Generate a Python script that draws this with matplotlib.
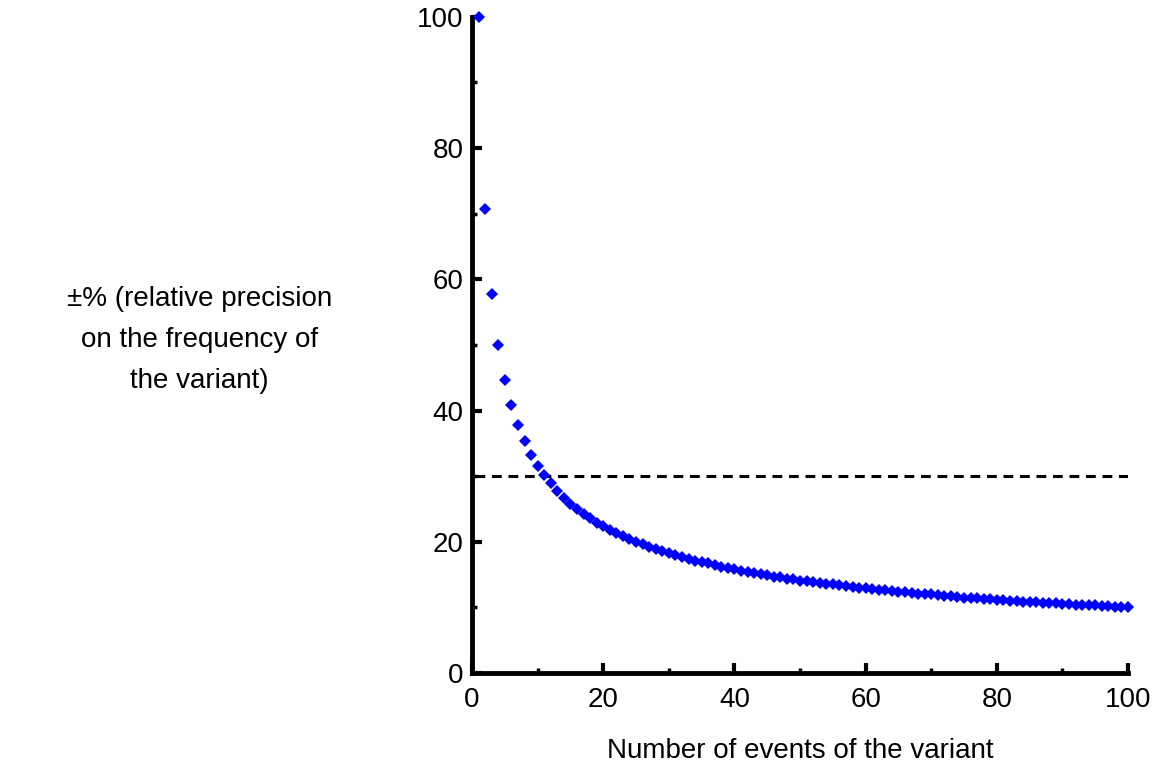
import matplotlib.pyplot as plt
from matplotlib.ticker import MultipleLocator

plt.rcParams['font.family'] = ['Liberation Sans', 'DejaVu Sans']

# number of events of the variant
events = list(range(1, 101))
# relative precision (+/- %)
precision = [
    100.0, 70.7, 57.7, 50.0, 44.7, 40.8, 37.8, 35.4, 33.3, 31.6,
    30.2, 28.9, 27.7, 26.7, 25.8, 25.0, 24.3, 23.6, 22.9, 22.4,
    21.8, 21.3, 20.9, 20.4, 20.0, 19.6, 19.2, 18.9, 18.6, 18.3,
    18.0, 17.7, 17.4, 17.1, 16.9, 16.7, 16.4, 16.2, 16.0, 15.8,
    15.6, 15.4, 15.2, 15.1, 14.9, 14.7, 14.6, 14.4, 14.3, 14.1,
    14.0, 13.9, 13.7, 13.6, 13.5, 13.4, 13.2, 13.1, 13.0, 12.9,
    12.8, 12.7, 12.6, 12.5, 12.4, 12.3, 12.2, 12.1, 12.0, 12.0,
    11.9, 11.8, 11.7, 11.6, 11.5, 11.5, 11.4, 11.3, 11.3, 11.2,
    11.1, 11.0, 11.0, 10.9, 10.8, 10.8, 10.7, 10.7, 10.6, 10.5,
    10.5, 10.4, 10.4, 10.3, 10.3, 10.2, 10.2, 10.1, 10.1, 10.0,
]
threshold = 30

fig = plt.figure(figsize=(11.61, 7.72), dpi=100)
ax = fig.add_axes([0.4066, 0.1282, 0.565, 0.85])

ax.plot(events, precision, linestyle='none', marker='D', ms=6.5,
        color='#0000ff', markeredgewidth=0, clip_on=False, zorder=3)
ax.plot([0.5, 100], [threshold, threshold], color='black', lw=2.2,
        linestyle=(0, (3.2, 2.2)))

ax.set_xlim(0, 100)
ax.set_ylim(0, 100)
ax.xaxis.set_major_locator(MultipleLocator(20))
ax.xaxis.set_minor_locator(MultipleLocator(10))
ax.yaxis.set_major_locator(MultipleLocator(20))
ax.yaxis.set_minor_locator(MultipleLocator(10))

for s in ['top', 'right']:
    ax.spines[s].set_visible(False)
for s in ['left', 'bottom']:
    ax.spines[s].set_linewidth(3.5)

ax.tick_params(which='major', direction='in', length=7, width=3,
               labelsize=20, pad=6)
ax.tick_params(which='minor', direction='in', length=3.5, width=2.5)
ax.tick_params(axis='x', pad=10)

ax.set_xlabel('Number of events of the variant', fontsize=20, labelpad=18)
fig.text(0.172, 0.56, '±% (relative precision\non the frequency of\nthe variant)',
         fontsize=20, ha='center', va='center', multialignment='center',
         linespacing=1.75)

plt.savefig('out.png', dpi=100)
